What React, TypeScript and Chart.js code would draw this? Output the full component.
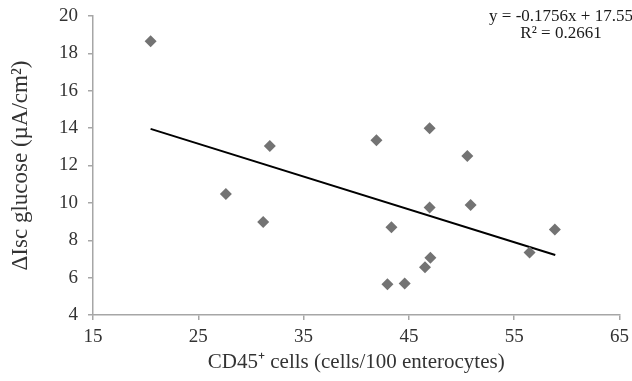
import React, { useEffect, useRef } from "react";
import { Chart, registerables } from "chart.js";

Chart.register(...registerables);

// CD45+ cells (cells/100 enterocytes)
const cd45Cells = [20.47, 27.62, 31.79, 31.16, 41.92, 46.97, 50.55, 46.97, 50.86, 43.34, 58.86, 56.46, 47.04, 46.53, 42.96, 44.6];
// ΔIsc glucose (µA/cm²)
const iscGlucose = [18.65, 10.47, 13.05, 8.98, 13.35, 14.0, 12.51, 9.75, 9.88, 8.7, 8.58, 7.35, 7.06, 6.56, 5.64, 5.69];
// Linear trendline end points
const trendX = [20.47, 58.9];
const trendY = [13.96, 7.21];
const equationLines = ["y = -0.1756x + 17.55", "R² = 0.2661"];

const xTitle = "CD45⁺ cells (cells/100 enterocytes)";
const yTitle = "ΔIsc glucose (µA/cm²)";

const FONT = "'Liberation Serif', 'Times New Roman', serif";
const TEXT = "#333333";
const AXIS = "#a6a6a6";

export default function App() {
  const ref = useRef<HTMLCanvasElement | null>(null);
  useEffect(() => {
    if (!ref.current) return;
    const equationPlugin = {
      id: "equation",
      afterDraw(chart: any) {
        const ctx = chart.ctx;
        ctx.save();
        ctx.fillStyle = "#1a1a1a";
        ctx.font = `17px ${FONT}`;
        ctx.textAlign = "center";
        ctx.textBaseline = "alphabetic";
        ctx.fillText(equationLines[0], 561, 21);
        ctx.fillText(equationLines[1], 561, 38);
        ctx.restore();
      },
    };
    const chart = new Chart(ref.current, {
      type: "scatter",
      data: {
        datasets: [
          {
            label: "data",
            data: cd45Cells.map((x, i) => ({ x, y: iscGlucose[i] })),
            pointStyle: "rectRot",
            pointRadius: 6,
            pointBackgroundColor: "#737373",
            pointBorderColor: "#737373",
            pointBorderWidth: 0,
            showLine: false,
          },
          {
            label: "trend",
            data: trendX.map((x, i) => ({ x, y: trendY[i] })),
            showLine: true,
            borderColor: "#000000",
            borderWidth: 2,
            pointRadius: 0,
            fill: false,
          },
        ],
      },
      options: {
        animation: false,
        responsive: true,
        maintainAspectRatio: false,
        layout: { padding: { top: 16, right: 12, left: 0, bottom: 0 } },
        plugins: { legend: { display: false }, tooltip: { enabled: false } },
        scales: {
          x: {
            type: "linear",
            min: 15,
            max: 65,
            afterFit: (s: any) => { s.height = 66; },
            ticks: { stepSize: 10, color: TEXT, font: { family: FONT, size: 19, lineHeight: 1.45 }, padding: 3, maxRotation: 0 },
            grid: { display: true, drawOnChartArea: false, drawTicks: true, tickLength: 5, color: AXIS, lineWidth: 1.5 },
            border: { display: true, color: AXIS, width: 1.5 },
            title: { display: true, text: xTitle, color: TEXT, font: { family: FONT, size: 21 }, padding: { top: 0, bottom: 6 } },
          },
          y: {
            type: "linear",
            min: 4,
            max: 20,
            afterFit: (s: any) => { s.width = 93; },
            ticks: { stepSize: 2, color: TEXT, font: { family: FONT, size: 19, lineHeight: 0.5 }, padding: 10 },
            grid: { display: true, drawOnChartArea: false, drawTicks: true, tickLength: 5, color: AXIS, lineWidth: 1.5 },
            border: { display: true, color: AXIS, width: 1.5 },
            title: { display: true, text: yTitle, color: TEXT, font: { family: FONT, size: 23 }, padding: { top: 7, bottom: 0 } },
          },
        },
      },
      plugins: [equationPlugin],
    });
    return () => chart.destroy();
  }, []);
  return (
    <div style={{ position: "fixed", left: 0, top: 0, width: 632, height: 381, background: "#fff" }}>
      <canvas ref={ref} />
    </div>
  );
}
